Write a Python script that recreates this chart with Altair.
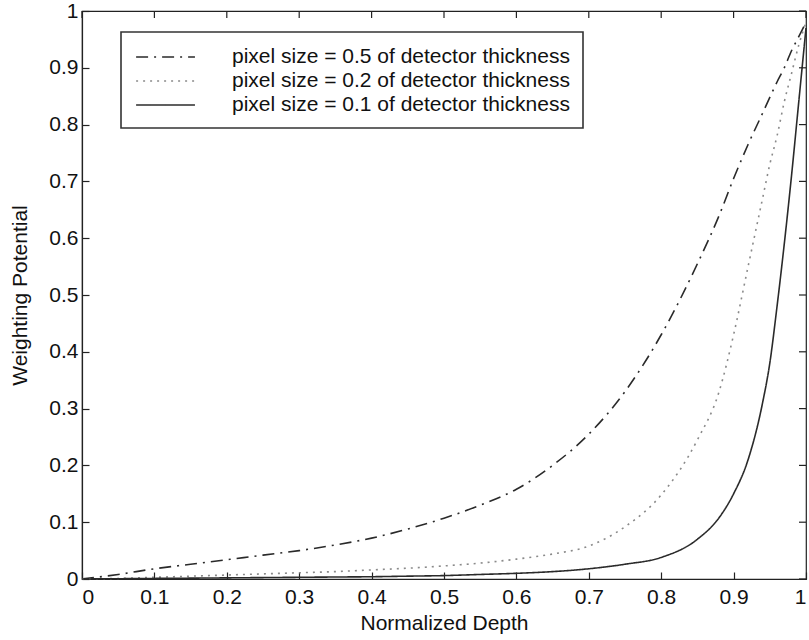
import altair as alt
import pandas as pd

depth = [0, 0.05, 0.1, 0.15, 0.2, 0.25, 0.3, 0.35, 0.4, 0.45, 0.5, 0.55, 0.6, 0.65,
         0.7, 0.75, 0.8, 0.85, 0.88, 0.9, 0.92, 0.94, 0.95, 0.96, 0.97, 0.98, 0.99, 1.0]

pot_05 = [0.0, 0.008, 0.018, 0.026, 0.034, 0.042, 0.05, 0.06, 0.072, 0.088, 0.107, 0.13,
          0.158, 0.2, 0.255, 0.33, 0.43, 0.555, 0.64, 0.705, 0.765, 0.82, 0.848, 0.875,
          0.9, 0.93, 0.955, 0.98]
pot_02 = [0.0, 0.001, 0.003, 0.005, 0.007, 0.009, 0.011, 0.013, 0.016, 0.019, 0.023, 0.028,
          0.035, 0.044, 0.058, 0.092, 0.148, 0.245, 0.33, 0.43, 0.55, 0.67, 0.73, 0.78,
          0.84, 0.89, 0.94, 0.98]
pot_01 = [0.0, 0.0005, 0.001, 0.0015, 0.002, 0.0025, 0.003, 0.0035, 0.004, 0.005, 0.006, 0.008,
          0.01, 0.013, 0.018, 0.026, 0.038, 0.07, 0.108, 0.15, 0.21, 0.31, 0.38, 0.48,
          0.59, 0.71, 0.84, 0.97]

labels = ["pixel size = 0.5 of detector thickness",
          "pixel size = 0.2 of detector thickness",
          "pixel size = 0.1 of detector thickness"]
series = [pot_05, pot_02, pot_01]

rows = []
for lab, vals in zip(labels, series):
    for x, y in zip(depth, vals):
        rows.append({"depth": x, "potential": y, "series": lab})
df = pd.DataFrame(rows)

ticks = [round(i * 0.1, 1) for i in range(11)]
tick_df = pd.DataFrame({"t": ticks})

FONT = "Liberation Sans"
W, H = 724, 568
xscale = alt.Scale(domain=[0, 1], nice=False)
yscale = alt.Scale(domain=[0, 1], nice=False)

lines = alt.Chart(df).mark_line(strokeWidth=1.6, interpolate="monotone").encode(
    x=alt.X("depth:Q", title="Normalized Depth", scale=xscale,
            axis=alt.Axis(values=ticks, format="~g", grid=False,
                          tickSize=alt.ExprRef("-7"), labelPadding=14,
                          titlePadding=5)),
    y=alt.Y("potential:Q", title="Weighting Potential", scale=yscale,
            axis=alt.Axis(values=ticks, format="~g", grid=False,
                          tickSize=alt.ExprRef("-7"), labelPadding=11,
                          titlePadding=18)),
    color=alt.Color("series:N", sort=labels, title=None,
                    scale=alt.Scale(domain=labels, range=["#2a2a2a", "#8a8a8a", "#2a2a2a"])),
    strokeDash=alt.StrokeDash("series:N", sort=labels, title=None,
                              scale=alt.Scale(domain=labels,
                                              range=[[12, 6, 2, 6], [2, 5], [1, 0]])),
    order=alt.Order("depth:Q"),
)

top_ticks = alt.Chart(tick_df).mark_rule(color="#222", strokeWidth=1.2).encode(
    x=alt.X("t:Q", scale=xscale), y=alt.value(0), y2=alt.value(7)
)
right_ticks = alt.Chart(tick_df).mark_rule(color="#222", strokeWidth=1.2).encode(
    y=alt.Y("t:Q", scale=yscale), x=alt.value(W - 7), x2=alt.value(W)
)

chart = alt.layer(lines, top_ticks, right_ticks).properties(
    width=W, height=H,
    autosize=alt.AutoSizeParams(type="none"),
    padding={"left": 82, "top": 11, "right": 3, "bottom": 61},
).configure_view(
    stroke="#222", strokeWidth=1.2
).configure_axis(
    domainColor="#222", tickColor="#222", labelColor="#111", titleColor="#111",
    labelFont=FONT, titleFont=FONT, labelFontSize=21, titleFontSize=21,
    titleFontWeight="normal", domainWidth=1.2, tickWidth=1.2,
).configure_legend(
    orient="none", legendX=39, legendY=21,
    strokeColor="#333", strokeWidth=1.6, fillColor="white",
    padding=13, labelFont=FONT, labelFontSize=21, labelColor="#111", labelLimit=0,
    symbolType="M-0.9,0H4.45", symbolSize=484, symbolStrokeWidth=1.6,
    rowPadding=2, labelOffset=74, cornerRadius=0,
)

chart.save("out.html", embed_options={"renderer": "svg", "actions": False})
